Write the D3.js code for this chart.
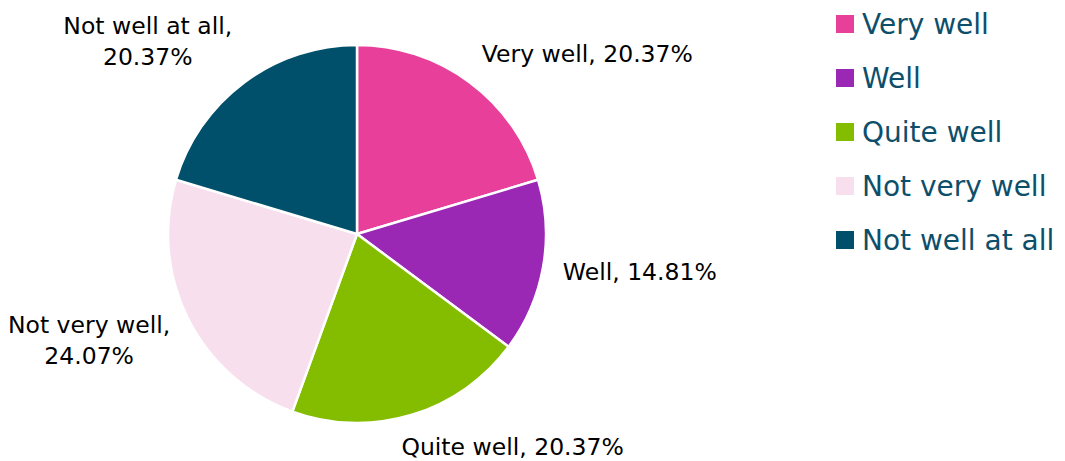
<!DOCTYPE html>
<html>
<head>
<meta charset="utf-8">
<script src="https://cdn.jsdelivr.net/npm/d3@7"></script>
<style>
  html, body { margin: 0; padding: 0; background: #fff; }
  svg { display: block; font-family: "DejaVu Sans", Verdana, sans-serif; }
</style>
</head>
<body>
<div id="chart"></div>
<script>
// Survey answers, clockwise from 12 o'clock
const categories = ['Very well', 'Well', 'Quite well', 'Not very well', 'Not well at all'];
const shares = [20.37, 14.81, 20.37, 24.07, 20.37];
const labelLines = [
  ['Very well, 20.37%'],
  ['Well, 14.81%'],
  ['Quite well, 20.37%'],
  ['Not very well,', '24.07%'],
  ['Not well at all,', '20.37%']
];
const colors = ['#e8409a', '#9b27b5', '#84bd00', '#f7dfed', '#00506b'];

const W = 1065, H = 461;
const cx = 357, cy = 234, r = 189;

const svg = d3.select('#chart').append('svg')
  .attr('width', W)
  .attr('height', H);

const data = categories.map((c, i) => ({ name: c, value: shares[i], color: colors[i], lines: labelLines[i] }));

const pie = d3.pie().sort(null).value(d => d.value);
const arc = d3.arc().innerRadius(0).outerRadius(r);
const arcs = pie(data);

const g = svg.append('g').attr('transform', `translate(${cx},${cy})`);

g.selectAll('path.slice')
  .data(arcs)
  .enter()
  .append('path')
  .attr('class', 'slice')
  .attr('d', arc)
  .style('fill', d => d.data.color)
  .style('stroke', '#fff')
  .style('stroke-width', 2.5)
  .style('stroke-linejoin', 'round');

// Data labels, outside the pie (best-fit style)
const labelSize = 23.5;
const lineH = 31;
const R = r + 20;
const clamp = v => Math.max(-1, Math.min(1, v));

arcs.forEach(d => {
  const a = (d.startAngle + d.endAngle) / 2;
  const px = Math.sin(a) * R;
  const py = -Math.cos(a) * R;

  const t = g.append('text')
    .attr('text-anchor', 'middle')
    .style('font-size', labelSize + 'px')
    .style('fill', '#000');
  d.data.lines.forEach((ln, j) => {
    t.append('tspan').attr('x', 0).attr('dy', j === 0 ? 0 : lineH).text(ln);
  });

  const w = t.node().getBBox().width;
  const h = (d.data.lines.length - 1) * lineH + 28;
  const bx = px + (w / 2) * clamp(Math.sin(a) * 3);
  const by = py - (h / 2) * Math.cos(a);
  const firstBase = by - h / 2 + 21;
  t.attr('transform', `translate(${bx},${firstBase})`);
});

// Legend
const legend = svg.append('g').attr('transform', 'translate(836,15)');
const rowY = d3.scaleBand().domain(categories).range([0, 54 * categories.length]);

categories.forEach((c, i) => {
  const row = legend.append('g').attr('transform', `translate(0,${rowY(c)})`);
  row.append('rect')
    .attr('width', 18)
    .attr('height', 18)
    .style('fill', colors[i]);
  row.append('text')
    .attr('x', 26)
    .attr('y', 18.5)
    .style('font-size', '28px')
    .style('fill', '#0d4f6b')
    .text(c);
});
</script>
</body>
</html>
